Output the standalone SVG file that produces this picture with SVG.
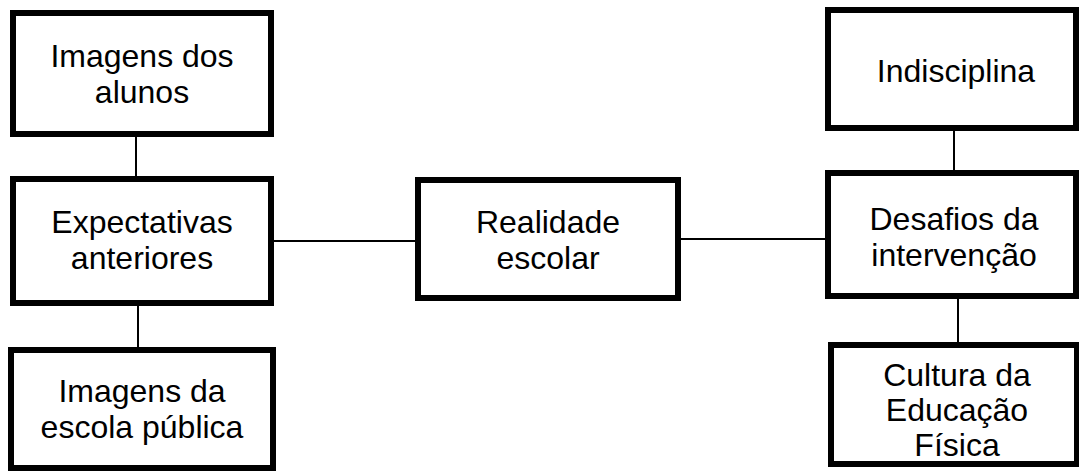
<svg xmlns="http://www.w3.org/2000/svg" width="1079" height="475" viewBox="0 0 1079 475">
<style>
.box{fill:#fff;stroke:#000;stroke-width:6}
.lbl{font-family:"Liberation Sans",Arial,sans-serif;font-size:32px;fill:#000;text-anchor:middle}
.con line{stroke:#000;stroke-width:2}
</style>
<rect width="1079" height="475" fill="#fff"/>
<g class="con" id="connectors">
<line x1="136" y1="137" x2="136" y2="176"/>
<line x1="138" y1="306" x2="138" y2="347"/>
<line x1="274" y1="241" x2="415" y2="241"/>
<line x1="681" y1="239" x2="825" y2="239"/>
<line x1="954" y1="131" x2="954" y2="170"/>
<line x1="958" y1="299" x2="958" y2="343"/>
</g>
<g id="n1"><rect class="box" x="13" y="13" width="258" height="121"/>
<text class="lbl" x="142" y="67">Imagens dos</text><text class="lbl" x="142" y="103">alunos</text></g>
<g id="n2"><rect class="box" x="13" y="179" width="258" height="124"/>
<text class="lbl" x="142" y="233">Expectativas</text><text class="lbl" x="142" y="269">anteriores</text></g>
<g id="n3"><rect class="box" x="11" y="350" width="262" height="118"/>
<text class="lbl" x="142" y="402">Imagens da</text><text class="lbl" x="142" y="438">escola pública</text></g>
<g id="n4"><rect class="box" x="418" y="180" width="260" height="118"/>
<text class="lbl" x="548" y="233">Realidade</text><text class="lbl" x="548" y="269">escolar</text></g>
<g id="n5"><rect class="box" x="828" y="10" width="248" height="118"/>
<text class="lbl" x="956" y="82">Indisciplina</text></g>
<g id="n6"><rect class="box" x="828" y="173" width="248" height="123"/>
<text class="lbl" x="954" y="230">Desafios da</text><text class="lbl" x="954" y="266">intervenção</text></g>
<g id="n7"><rect class="box" x="831" y="345" width="246" height="119"/>
<text class="lbl" x="957" y="386">Cultura da</text><text class="lbl" x="957" y="421">Educação</text><text class="lbl" x="957" y="456">Física</text></g>
</svg>
